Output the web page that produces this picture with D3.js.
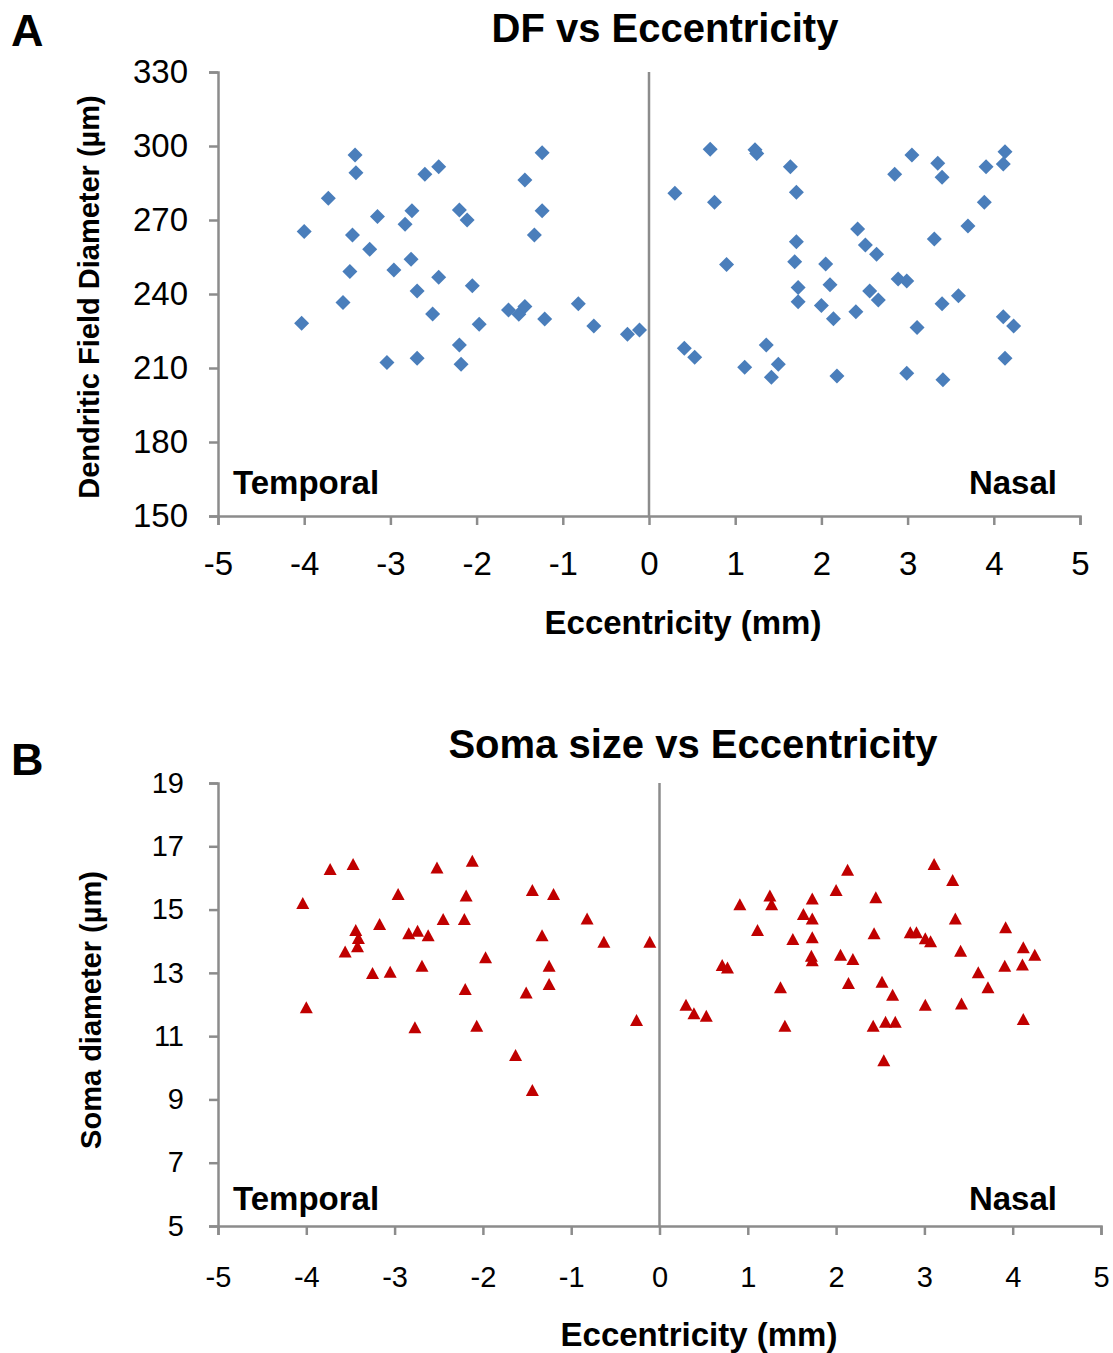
<!DOCTYPE html>
<html>
<head>
<meta charset="utf-8">
<script src="https://cdn.jsdelivr.net/npm/d3@7"></script>
<style>
  body { margin: 0; background: #fff; }
  svg text { font-family: Arial, "Liberation Sans", sans-serif; fill: #000; }
</style>
</head>
<body>
<div id="chart"></div>
<script>
// Panel A: dendritic field diameter (µm) vs eccentricity (mm)
var dfEcc = [-3.41, -3.40, -3.72, -4.00, -3.44, -3.15, -2.83, -2.75, -2.60, -2.44,
  -3.24, -3.47, -2.96, -2.76, -2.69, -2.44, -3.55, -4.03, -2.51, -3.04,
  -2.69, -2.20, -2.18, -2.20, -2.11, -2.05, -1.97, -1.63, -1.51, -1.44,
  -1.44, -1.24, -1.24, -1.33, -1.21, -0.82, -0.64, -0.25, -0.11,
  0.71, 1.23, 1.25, 1.64, 0.30, 0.76, 1.71, 0.90, 1.71, 1.69,
  1.73, 1.73, 2.05, 2.10, 2.00, 2.14, 2.40, 2.42, 2.51, 2.64,
  2.56, 2.66, 2.89, 2.99, 2.85, 3.05, 3.35, 3.40, 3.31, 3.70,
  3.89, 3.91, 4.13, 4.11, 3.59, 3.40, 3.11, 4.11, 4.23, 4.13,
  3.41, 2.99, 2.18, 1.42, 1.50, 1.11, 1.36, 0.41, 0.53];
var dfDiam = [296.4, 289.2, 278.8, 265.3, 263.9, 271.4, 268.3, 273.7, 288.5, 291.6,
  258.1, 249.1, 249.7, 254.1, 241.2, 246.8, 236.6, 228.1, 231.9, 212.2,
  214.0, 219.3, 211.5, 274.1, 270.0, 243.3, 227.7, 233.5, 231.8, 234.9,
  286.2, 297.3, 273.7, 263.9, 229.9, 236.0, 227.0, 223.7, 225.4,
  298.7, 298.5, 297.0, 291.6, 280.8, 277.2, 281.2, 252.0, 261.2, 253.1,
  242.6, 236.9, 252.2, 243.7, 235.3, 230.0, 232.8, 266.4, 259.9, 256.1,
  241.2, 237.6, 246.1, 245.3, 288.5, 296.4, 293.0, 287.3, 262.3, 267.6,
  277.2, 291.6, 297.7, 292.7, 239.3, 236.0, 226.4, 230.8, 227.0, 214.0,
  205.2, 207.9, 206.8, 206.3, 211.5, 210.3, 219.3, 218.0, 214.4];

// Panel B: soma diameter (µm) vs eccentricity (mm)
var somaEcc = [-4.04, -3.73, -3.47, -4.00, -3.44, -3.41, -3.42, -3.56, -3.25, -3.05,
  -3.17, -2.96, -2.84, -2.74, -2.62, -2.69, -2.77, -2.52, -2.45, -2.21,
  -2.19, -2.12, -1.97, -2.20, -2.07, -1.63, -1.44, -1.44, -1.20, -1.25,
  -1.25, -1.33, -1.51, -0.82, -0.63, -0.26, -0.11,
  0.30, 0.39, 0.53, 0.71, 0.77, 0.91, 1.11, 1.25, 1.27, 1.37,
  1.42, 1.51, 1.63, 1.73, 1.73, 1.73, 1.72, 1.73, 2.00, 2.13,
  2.05, 2.19, 2.14, 2.43, 2.45, 2.52, 2.64, 2.42, 2.56, 2.67,
  2.54, 2.84, 2.91, 3.01, 3.07, 3.01, 3.11, 3.32, 3.35, 3.41,
  3.42, 3.61, 3.72, 3.91, 3.92, 4.12, 4.11, 4.25, 4.12];
var somaDiam = [15.18, 16.25, 16.41, 11.88, 14.32, 14.07, 13.81, 13.64, 12.96, 13.00,
  14.51, 15.46, 14.22, 14.30, 14.16, 13.19, 11.25, 16.30, 14.67, 14.67,
  15.41, 16.51, 13.46, 12.46, 11.30, 10.37, 9.27, 15.59, 15.46, 13.19,
  12.62, 14.16, 12.35, 14.69, 13.95, 11.48, 13.95,
  11.96, 11.69, 11.61, 13.22, 13.14, 15.14, 14.32, 15.41, 15.14, 12.51,
  11.30, 14.04, 14.83, 15.32, 14.69, 14.09, 13.51, 13.37, 15.59, 16.23,
  13.54, 13.41, 12.65, 14.22, 15.36, 12.69, 12.28, 11.30, 11.42, 11.42,
  10.21, 14.25, 14.25, 14.06, 13.97, 11.96, 16.41, 15.90, 14.69, 13.67,
  12.00, 12.99, 12.51, 13.19, 14.41, 13.78, 13.23, 13.54, 11.51];

var xTicks = [-5, -4, -3, -2, -1, 0, 1, 2, 3, 4, 5];
var dfTicks = [150, 180, 210, 240, 270, 300, 330];
var somaTicks = [5, 7, 9, 11, 13, 15, 17, 19];

var W = 1113, H = 1353;
var axisColor = "#8c8c8c";

var svg = d3.select("#chart").append("svg")
    .attr("width", W)
    .attr("height", H);

function panel(cfg) {
    var xScale = d3.scaleLinear().domain([-5, 5]).range([cfg.left, cfg.right]);
    var yScale = d3.scaleLinear().domain(cfg.yDomain).range([cfg.bottom, cfg.top]);

    var g = svg.append("g");

    // panel letter and title
    g.append("text")
        .attr("x", 11).attr("y", cfg.letterY)
        .style("font-size", "45px").style("font-weight", "bold")
        .text(cfg.letter);
    g.append("text")
        .attr("x", cfg.titleX).attr("y", cfg.titleY)
        .attr("text-anchor", "middle")
        .style("font-size", "40px").style("font-weight", "bold")
        .text(cfg.title);

    // axes
    var yAxis = d3.axisLeft(yScale).tickValues(cfg.yTicks).tickSize(9).tickPadding(cfg.yPad);
    var xAxis = d3.axisBottom(xScale).tickValues(xTicks).tickSize(9).tickPadding(cfg.xPad)
        .tickFormat(d3.format("d"));

    var ya = g.append("g")
        .attr("transform", "translate(" + cfg.left + ",0)")
        .call(yAxis);
    var xa = g.append("g")
        .attr("transform", "translate(0," + cfg.bottom + ")")
        .call(xAxis);

    [ya, xa].forEach(function (a) {
        a.select(".domain").attr("stroke", axisColor).attr("stroke-width", 2.5);
        a.selectAll(".tick line").attr("stroke", axisColor).attr("stroke-width", 2.5);
        a.selectAll(".tick text")
            .style("font-size", cfg.tickFont + "px")
            .style("font-family", "Arial, 'Liberation Sans', sans-serif")
            .attr("fill", "#000");
    });
    xa.selectAll(".tick text").text(function (d) { return d < 0 ? "-" + Math.abs(d) : d; });

    // zero line
    g.append("line")
        .attr("x1", xScale(0)).attr("x2", xScale(0))
        .attr("y1", yScale(cfg.yDomain[1])).attr("y2", yScale(cfg.yDomain[0]))
        .attr("stroke", axisColor).attr("stroke-width", 2.5);

    // axis titles
    g.append("text")
        .attr("x", cfg.xLabelX).attr("y", cfg.xLabelY)
        .attr("text-anchor", "middle")
        .style("font-size", "33px").style("font-weight", "bold")
        .text("Eccentricity (mm)");
    g.append("text")
        .attr("transform", "translate(" + cfg.yLabelX + "," + cfg.yLabelY + ") rotate(-90)")
        .attr("text-anchor", "middle")
        .style("font-size", "29px").style("font-weight", "bold")
        .text(cfg.yLabel);

    // side labels
    g.append("text")
        .attr("x", cfg.left + 15).attr("y", cfg.sideY)
        .style("font-size", "33px").style("font-weight", "bold")
        .text("Temporal");
    g.append("text")
        .attr("x", 1057).attr("y", cfg.sideY)
        .attr("text-anchor", "end")
        .style("font-size", "33px").style("font-weight", "bold")
        .text("Nasal");

    // points
    g.append("g").selectAll("path")
        .data(cfg.xs.map(function (x, i) { return [x, cfg.ys[i]]; }))
        .enter()
        .append("path")
        .attr("d", cfg.symbol)
        .attr("transform", function (d) {
            return "translate(" + xScale(d[0]) + "," + yScale(d[1]) + ")";
        })
        .attr("fill", cfg.color);
}

panel({
    letter: "A", letterY: 46,
    title: "DF vs Eccentricity", titleX: 665, titleY: 42,
    left: 218, right: 1080, top: 72, bottom: 516,
    yDomain: [150, 330], yTicks: dfTicks, tickFont: 33, yPad: 21, xPad: 27,
    xLabelX: 683, xLabelY: 634,
    yLabel: "Dendritic Field Diameter (µm)", yLabelX: 99, yLabelY: 297,
    sideY: 494,
    xs: dfEcc, ys: dfDiam,
    symbol: "M0,-7.5L7.5,0L0,7.5L-7.5,0Z",
    color: "#4a7ebb"
});

panel({
    letter: "B", letterY: 775,
    title: "Soma size vs Eccentricity", titleX: 693, titleY: 758,
    left: 218, right: 1101, top: 783, bottom: 1226,
    yDomain: [5, 19], yTicks: somaTicks, tickFont: 29, yPad: 25, xPad: 31,
    xLabelX: 699, xLabelY: 1346,
    yLabel: "Soma diameter (µm)", yLabelX: 101, yLabelY: 1010,
    sideY: 1210,
    xs: somaEcc, ys: somaDiam,
    symbol: "M0,-7L6.5,5L-6.5,5Z",
    color: "#c00000"
});
</script>
</body>
</html>
